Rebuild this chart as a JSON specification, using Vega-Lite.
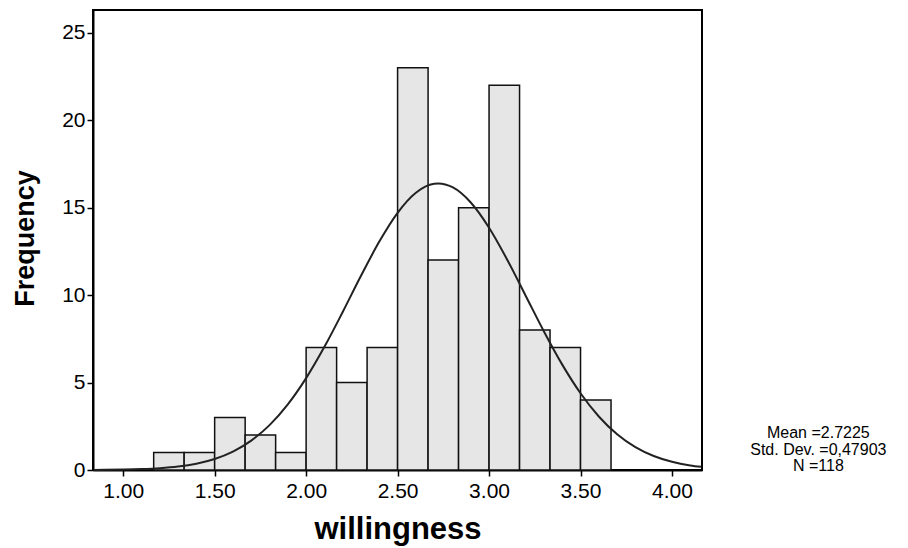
{
  "$schema": "https://vega.github.io/schema/vega-lite/v6.json",
  "width": 609,
  "height": 460,
  "autosize": {"type": "none"},
  "padding": {"left": 93, "top": 10, "right": 206, "bottom": 78},
  "background": "white",
  "config": {
    "font": "Liberation Sans",
    "view": {"stroke": "black", "strokeWidth": 2},
    "axis": {"grid": false, "domainColor": "black", "domainWidth": 2, "tickColor": "black", "tickWidth": 1.5, "labelColor": "black", "titleColor": "black", "labelFont": "Liberation Sans", "titleFont": "Liberation Sans"}
  },
  "datasets": {
    "bins": [
      {"bin_start": 1.1667, "bin_end": 1.3333, "count": 1},
      {"bin_start": 1.3333, "bin_end": 1.5, "count": 1},
      {"bin_start": 1.5, "bin_end": 1.6667, "count": 3},
      {"bin_start": 1.6667, "bin_end": 1.8333, "count": 2},
      {"bin_start": 1.8333, "bin_end": 2.0, "count": 1},
      {"bin_start": 2.0, "bin_end": 2.1667, "count": 7},
      {"bin_start": 2.1667, "bin_end": 2.3333, "count": 5},
      {"bin_start": 2.3333, "bin_end": 2.5, "count": 7},
      {"bin_start": 2.5, "bin_end": 2.6667, "count": 23},
      {"bin_start": 2.6667, "bin_end": 2.8333, "count": 12},
      {"bin_start": 2.8333, "bin_end": 3.0, "count": 15},
      {"bin_start": 3.0, "bin_end": 3.1667, "count": 22},
      {"bin_start": 3.1667, "bin_end": 3.3333, "count": 8},
      {"bin_start": 3.3333, "bin_end": 3.5, "count": 7},
      {"bin_start": 3.5, "bin_end": 3.6667, "count": 4}
    ],
    "curve": [
      {"x": 0.84, "density": 0.007},
      {"x": 0.9, "density": 0.012},
      {"x": 1.0, "density": 0.026},
      {"x": 1.1, "density": 0.053},
      {"x": 1.2, "density": 0.105},
      {"x": 1.3, "density": 0.199},
      {"x": 1.4, "density": 0.363},
      {"x": 1.5, "density": 0.631},
      {"x": 1.6, "density": 1.052},
      {"x": 1.7, "density": 1.679},
      {"x": 1.8, "density": 2.564},
      {"x": 1.9, "density": 3.751},
      {"x": 2.0, "density": 5.252},
      {"x": 2.1, "density": 7.041},
      {"x": 2.2, "density": 9.036},
      {"x": 2.3, "density": 11.102},
      {"x": 2.4, "density": 13.058},
      {"x": 2.5, "density": 14.705},
      {"x": 2.6, "density": 15.853},
      {"x": 2.7, "density": 16.362},
      {"x": 2.7225, "density": 16.38},
      {"x": 2.8, "density": 16.167},
      {"x": 2.9, "density": 15.293},
      {"x": 3.0, "density": 13.85},
      {"x": 3.1, "density": 12.008},
      {"x": 3.2, "density": 9.967},
      {"x": 3.3, "density": 7.92},
      {"x": 3.4, "density": 6.025},
      {"x": 3.5, "density": 4.388},
      {"x": 3.6, "density": 3.059},
      {"x": 3.7, "density": 2.042},
      {"x": 3.8, "density": 1.305},
      {"x": 3.9, "density": 0.798},
      {"x": 4.0, "density": 0.468},
      {"x": 4.1, "density": 0.262},
      {"x": 4.16, "density": 0.182}
    ]
  },
  "layer": [
    {
      "data": {"name": "bins"},
      "mark": {"type": "rect", "fill": "#e6e6e6", "stroke": "#111111", "strokeWidth": 1.5},
      "encoding": {
        "x": {
          "field": "bin_start", "type": "quantitative",
          "scale": {"domain": [0.835, 4.164], "nice": false, "zero": false},
          "axis": {
            "values": [1, 1.5, 2, 2.5, 3, 3.5, 4], "format": ".2f",
            "labelFontSize": 21, "tickSize": 6, "labelPadding": 4,
            "title": "willingness", "titleFontSize": 31, "titleFontWeight": "bold",
            "titleX": 304.5, "titleY": 68, "titleBaseline": "alphabetic", "titleAlign": "center"
          }
        },
        "x2": {"field": "bin_end"},
        "y": {
          "field": "count", "type": "quantitative",
          "scale": {"domain": [0, 26.3], "nice": false},
          "axis": {
            "values": [0, 5, 10, 15, 20, 25],
            "labelFontSize": 21, "tickSize": 6, "labelPadding": 2,
            "title": "Frequency", "titleFontSize": 27, "titleFontWeight": "bold",
            "titleX": -60, "titleY": 228, "titleBaseline": "alphabetic", "titleAlign": "center", "titleAngle": -90
          }
        },
        "y2": {"datum": 0}
      }
    },
    {
      "data": {"name": "curve"},
      "mark": {"type": "line", "color": "#222222", "strokeWidth": 2, "interpolate": "monotone"},
      "encoding": {
        "x": {"field": "x", "type": "quantitative"},
        "y": {"field": "density", "type": "quantitative"}
      }
    },
    {
      "data": {"values": [{}]},
      "mark": {"type": "text", "align": "center", "baseline": "middle", "fontSize": 16, "lineHeight": 16.5, "color": "black", "font": "Liberation Sans"},
      "encoding": {
        "text": {"value": ["Mean =2.7225", "Std. Dev. =0,47903", "N =118"]},
        "x": {"datum": 4.8},
        "y": {"datum": 2.09}
      }
    }
  ]
}
